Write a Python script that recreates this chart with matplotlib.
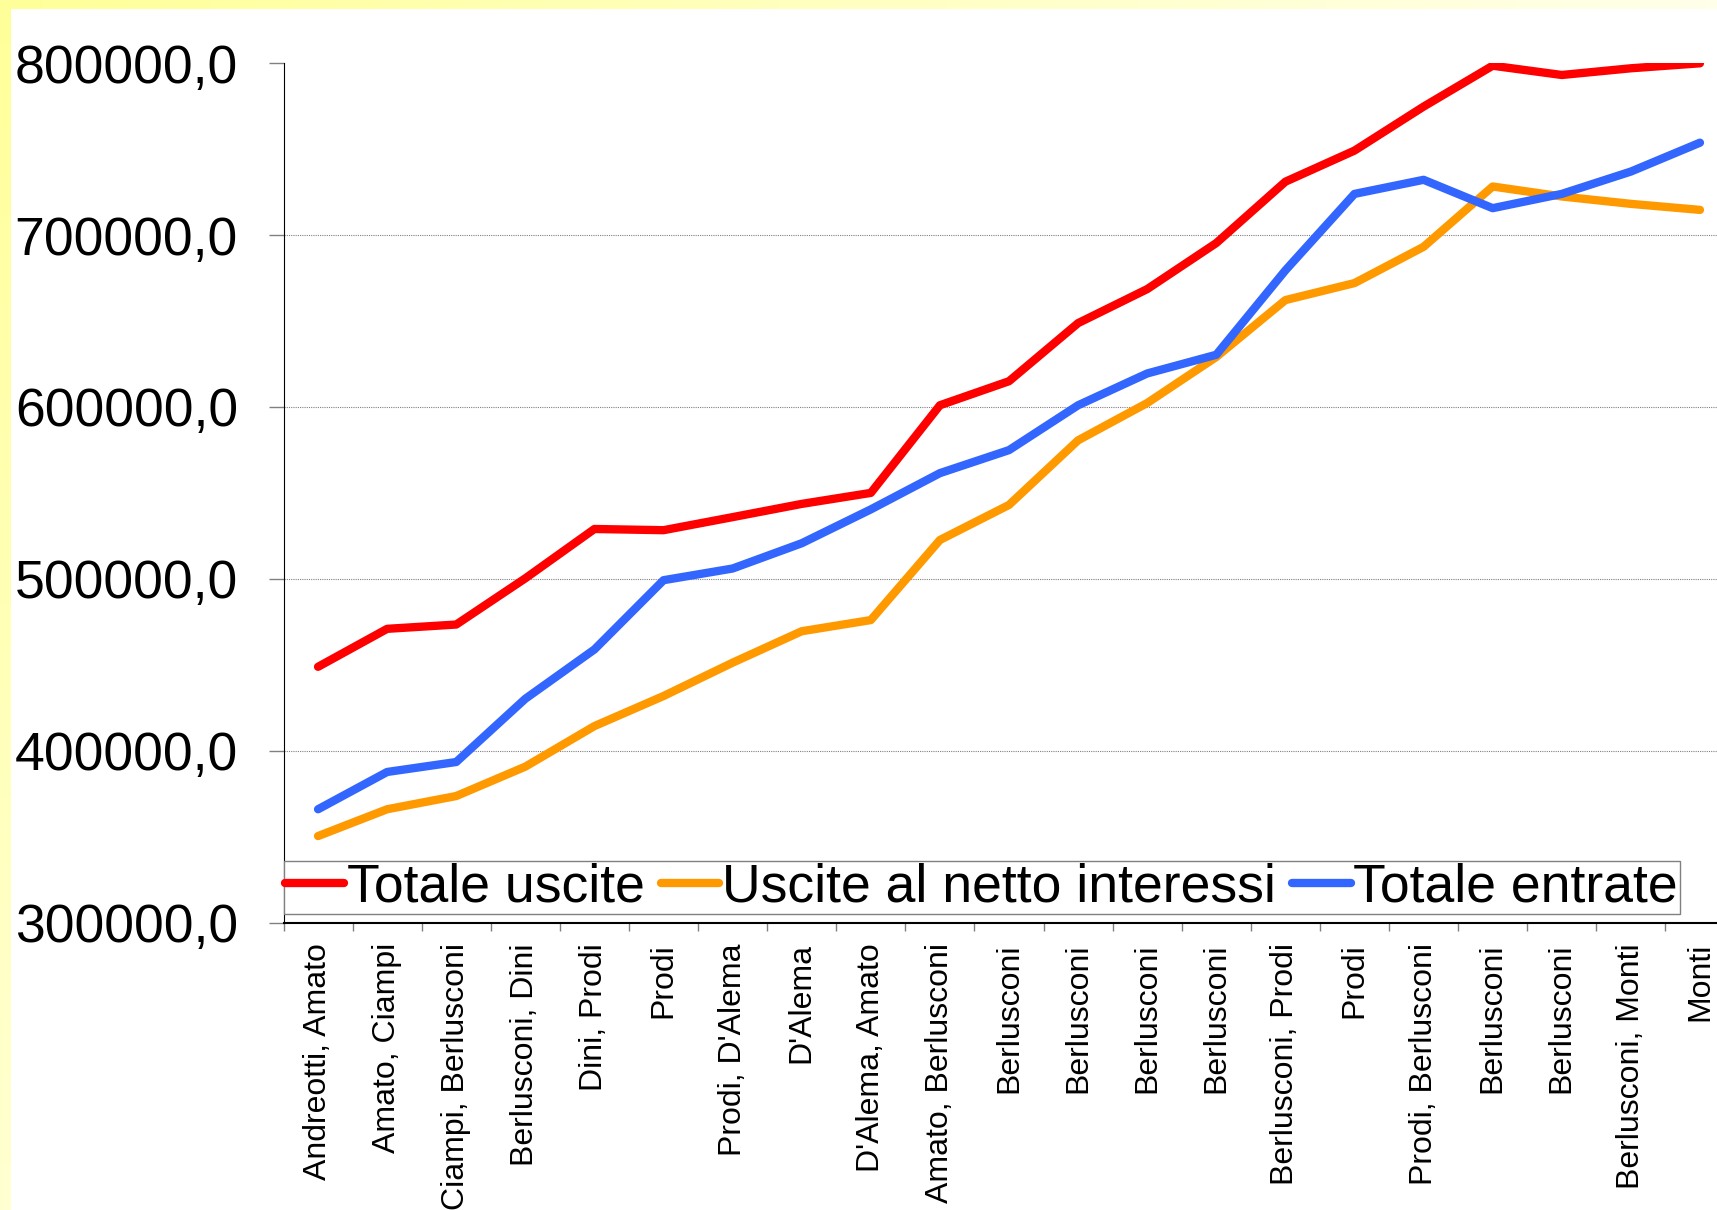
import numpy as np
import matplotlib
matplotlib.use("Agg")
import matplotlib.pyplot as plt
from matplotlib.ticker import FixedLocator, FuncFormatter, NullFormatter

plt.rcParams["font.family"] = ["Liberation Sans", "DejaVu Sans"]

governi = [
    "Andreotti, Amato", "Amato, Ciampi", "Ciampi, Berlusconi", "Berlusconi, Dini",
    "Dini, Prodi", "Prodi", "Prodi, D'Alema", "D'Alema", "D'Alema, Amato",
    "Amato, Berlusconi", "Berlusconi", "Berlusconi", "Berlusconi", "Berlusconi",
    "Berlusconi, Prodi", "Prodi", "Prodi, Berlusconi", "Berlusconi", "Berlusconi",
    "Berlusconi, Monti", "Monti",
]
totale_uscite = [448800, 470900, 473400, 500300, 529000, 528300, 535900, 543600,
                 550000, 601000, 615000, 648800, 668600, 695400, 731100, 749200,
                 774800, 798600, 793200, 797100, 800000]
uscite_netto_interessi = [350300, 365900, 373600, 390700, 414300, 431800, 451200,
                          469500, 476000, 522600, 543000, 580600, 602300, 629100,
                          662200, 672100, 693200, 728300, 722500, 718200, 714700]
totale_entrate = [365900, 387600, 393400, 430200, 458900, 499200, 506000, 520700,
                  540400, 561500, 574900, 601000, 619500, 630400, 679500, 724000,
                  732200, 715700, 724000, 737000, 753800]
y_ticks = [300000, 400000, 500000, 600000, 700000, 800000]

W, H = 1717, 1210
fig = plt.figure(figsize=(W / 100, H / 100), dpi=100)

# yellow gradient border (top and left)
bg = np.ones((H, W, 3))
xs = np.linspace(0, 1, W)
ys = np.linspace(0, 1, H)
top_col = np.stack([np.ones(W), np.ones(W), 0.60 + 0.32 * xs], axis=1)
left_col = np.stack([np.ones(H), np.ones(H), 0.60 + 0.22 * ys], axis=1)
bg[:, :11, :] = left_col[:, None, :]
bg[:9, :, :] = top_col[None, :, :]
bax = fig.add_axes([0, 0, 1, 1], zorder=-10)
bax.imshow(bg, aspect="auto", extent=(0, 1, 0, 1))
bax.axis("off")

ax = fig.add_axes([283.5 / W, (H - 922.5) / H, 1451 / W, 859.2 / H])
ax.set_facecolor("none")

x = np.arange(len(governi))
series = [
    ("Totale uscite", totale_uscite, "#FF0000"),
    ("Uscite al netto interessi", uscite_netto_interessi, "#FF9900"),
    ("Totale entrate", totale_entrate, "#3366FF"),
]
for name, vals, col in series:
    ax.plot(x, vals, color=col, lw=6, label=name,
            solid_capstyle="round", solid_joinstyle="round")

ax.set_xlim(-0.5, len(governi) - 0.5)
ax.set_ylim(300000, 800000)

# y axis
ax.set_yticks(y_ticks)
ax.yaxis.set_major_formatter(FuncFormatter(lambda v, p: f"{v:.1f}".replace(".", ",")))
ax.tick_params(axis="y", length=10.8, width=1, color="#808080", pad=22,
               labelsize=38.5)
ax.yaxis.grid(True, color="#808080", linestyle=(0, (1, 1)), linewidth=0.8)
ax.get_ygridlines()[-1].set_visible(False)

# x axis: ticks on category boundaries, labels at centres
ax.xaxis.set_major_locator(FixedLocator(np.arange(len(governi) + 1) - 0.5))
ax.xaxis.set_major_formatter(NullFormatter())
ax.xaxis.set_minor_locator(FixedLocator(x))
ax.set_xticklabels(governi, minor=True, rotation=90, fontsize=23, va="top")
ax.tick_params(axis="x", which="major", length=6, width=1, color="#808080")
ax.tick_params(axis="x", which="minor", length=0, pad=14.8)

for s in ["top", "right"]:
    ax.spines[s].set_visible(False)
ax.spines["left"].set_color("black")
ax.spines["bottom"].set_color("black")
ax.spines["bottom"].set_linewidth(1.5)

leg = ax.legend(loc="lower left", bbox_to_anchor=(0.0, 0.01), ncol=3,
                fontsize=38.5, borderaxespad=0, borderpad=0.03,
                handlelength=1.1, handletextpad=0.05, columnspacing=0.3,
                fancybox=False, framealpha=1, edgecolor="#808080")
leg.get_frame().set_linewidth(1)

fig.savefig("out.png", dpi=100)
